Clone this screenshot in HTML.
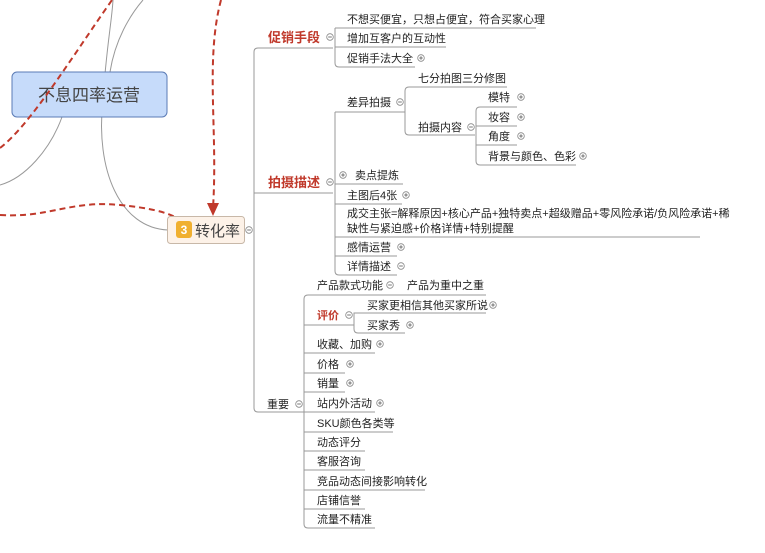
<!DOCTYPE html>
<html><head><meta charset="utf-8"><style>
body{margin:0;background:#fff;}
svg{display:block;font-family:"Liberation Sans","Noto Sans CJK SC",sans-serif;}
.t{font-size:11px;fill:#222;}
.r{font-size:13px;fill:#c0392b;font-weight:bold;}
.l{stroke:#999;stroke-width:1;fill:none;}
</style></head><body>
<svg width="765" height="553" viewBox="0 0 765 553" xmlns="http://www.w3.org/2000/svg">
<defs>
<symbol id="p" viewBox="0 0 8 8"><circle cx="4" cy="4" r="3.3" fill="#fff" stroke="#888" stroke-width="0.8"/><path d="M2.2 4H5.8M4 2.2V5.8" stroke="#555" stroke-width="0.8"/></symbol>
<symbol id="m" viewBox="0 0 8 8"><circle cx="4" cy="4" r="3.3" fill="#fff" stroke="#888" stroke-width="0.8"/><path d="M2.2 4H5.8" stroke="#555" stroke-width="0.8"/></symbol>
</defs>
<path class="l" d="M168 230 C120 228 95 170 103 100 C106 50 112 20 113 0"/>
<path class="l" d="M110 72 C115 40 130 15 143 0"/>
<path class="l" d="M62 117 C50 150 25 178 0 185"/>
<rect x="12" y="72" width="155" height="45" rx="5" fill="#c6dbfa" stroke="#5b7bb5"/>
<text x="89" y="101" text-anchor="middle" font-size="17" fill="#444">不息四率运营</text>
<g stroke="#c0392b" stroke-width="2" stroke-dasharray="6,4" fill="none">
<path d="M0 148 C30 125 70 60 112 0"/>
<path d="M0 215 C50 218 70 200 120 205 C150 208 165 212 175 217"/>
<path d="M221 0 C205 60 218 130 213 208"/>
</g>
<path d="M207 203 L213 216 L219 203 Z" fill="#c0392b"/>
<rect x="167.5" y="216.5" width="77" height="27" rx="3" fill="#fdf2e8" stroke="#c8b8a8"/>
<rect x="176" y="221" width="16" height="17" rx="3" fill="#f0b030"/>
<text x="184" y="234" text-anchor="middle" font-size="12" font-weight="bold" fill="#fff">3</text>
<text x="195" y="236" font-size="15" fill="#444">转化率</text>
<use href="#m" x="245" y="226" width="8" height="8"/>
<path class="l" d="M254 230 V52 Q254 48 258 48 H333 M254 193 H333 M254 230 V408 Q254 412 258 412 H305"/>
<text class="r" x="268" y="42">促销手段</text>
<use href="#m" x="326" y="33" width="8" height="8"/>
<path class="l" d="M335 28 H536 M335 28 V63 Q335 67 339 67 H415 M335 47 H446"/>
<text class="t" x="347" y="23">不想买便宜，只想占便宜，符合买家心理</text>
<text class="t" x="347" y="42">增加互客户的互动性</text>
<text class="t" x="347" y="62">促销手法大全</text>
<use href="#p" x="417" y="54" width="8" height="8"/>
<text class="r" x="268" y="187">拍摄描述</text>
<use href="#m" x="326" y="178" width="8" height="8"/>
<path class="l" d="M335 112 V271 Q335 275 339 275 H397 M335 112 H405 M335 184 H403 M335 204 H402 M335 237 H700 M335 256 H397"/>
<text class="t" x="347" y="106">差异拍摄</text>
<use href="#m" x="396" y="98" width="8" height="8"/>
<path class="l" d="M405 112 V91 Q405 87 409 87 H507 M405 112 V131 Q405 135 409 135 H475"/>
<text class="t" x="418" y="82">七分拍图三分修图</text>
<text class="t" x="418" y="131">拍摄内容</text>
<use href="#m" x="467" y="123" width="8" height="8"/>
<path class="l" d="M476 131 V111 Q476 107 480 107 H517 M476 131 V161 Q476 165 480 165 H576 M476 126 H517 M476 145 H517"/>
<text class="t" x="488" y="101">模特</text><use href="#p" x="517" y="93" width="8" height="8"/>
<text class="t" x="488" y="121">妆容</text><use href="#p" x="517" y="113" width="8" height="8"/>
<text class="t" x="488" y="140">角度</text><use href="#p" x="517" y="132" width="8" height="8"/>
<text class="t" x="488" y="160">背景与颜色、色彩</text><use href="#p" x="579" y="152" width="8" height="8"/>
<use href="#p" x="339" y="171" width="8" height="8"/>
<text class="t" x="355" y="179">卖点提炼</text>
<text class="t" x="347" y="199">主图后4张</text><use href="#p" x="402" y="191" width="8" height="8"/>
<text class="t" x="347" y="217">成交主张=解释原因+核心产品+独特卖点+超级赠品+零风险承诺/负风险承诺+稀</text>
<text class="t" x="347" y="232">缺性与紧迫感+价格详情+特别提醒</text>
<text class="t" x="347" y="251">感情运营</text><use href="#p" x="397" y="243" width="8" height="8"/>
<text class="t" x="347" y="270">详情描述</text><use href="#m" x="397" y="262" width="8" height="8"/>
<text class="t" x="267" y="408">重要</text>
<use href="#m" x="295" y="400" width="8" height="8"/>
<path class="l" d="M304 412 V299 Q304 295 308 295 H486 M304 412 V524 Q304 528 308 528 H375 M304 325 H354 M304 353 H375 M304 373 H345 M304 392 H345 M304 412 H375 M304 432 H393 M304 451 H365 M304 470 H365 M304 490 H425 M304 509 H365"/>
<text class="t" x="317" y="289">产品款式功能</text>
<use href="#m" x="386" y="281" width="8" height="8"/>
<text class="t" x="407" y="289">产品为重中之重</text>
<text x="317" y="319" font-size="11" font-weight="bold" fill="#c0392b">评价</text>
<use href="#m" x="345" y="311" width="8" height="8"/>
<path class="l" d="M354 325 V313 H486 M354 325 V329 Q354 333 358 333 H405"/>
<text class="t" x="367" y="309">买家更相信其他买家所说</text><use href="#p" x="489" y="301" width="8" height="8"/>
<text class="t" x="367" y="329">买家秀</text><use href="#p" x="406" y="321" width="8" height="8"/>
<text class="t" x="317" y="348">收藏、加购</text><use href="#p" x="376" y="340" width="8" height="8"/>
<text class="t" x="317" y="368">价格</text><use href="#p" x="346" y="360" width="8" height="8"/>
<text class="t" x="317" y="387">销量</text><use href="#p" x="346" y="379" width="8" height="8"/>
<text class="t" x="317" y="407">站内外活动</text><use href="#p" x="376" y="399" width="8" height="8"/>
<text class="t" x="317" y="427">SKU颜色各类等</text>
<text class="t" x="317" y="446">动态评分</text>
<text class="t" x="317" y="465">客服咨询</text>
<text class="t" x="317" y="485">竞品动态间接影响转化</text>
<text class="t" x="317" y="504">店铺信誉</text>
<text class="t" x="317" y="523">流量不精准</text>
</svg>
</body></html>
